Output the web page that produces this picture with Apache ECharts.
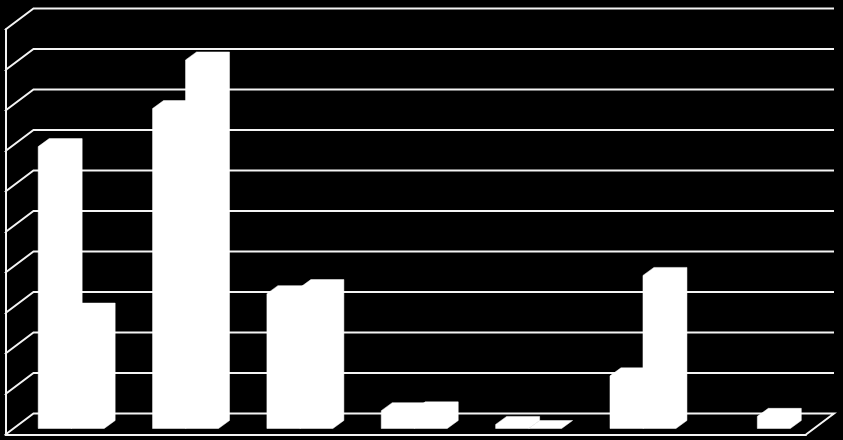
<!DOCTYPE html>
<html>
<head>
<meta charset="utf-8">
<style>html,body{margin:0;padding:0;background:#000}#c{width:843px;height:440px}</style>
<script src="https://cdn.jsdelivr.net/npm/echarts@6/dist/echarts.min.js"></script>
</head>
<body>
<div id="c"></div>
<script>
const categories = ['1','2','3','4','5','6','7'];
const seriesA = [6.96, 7.9, 3.33, 0.44, 0.1, 1.3, null];
const seriesB = [2.9, 9.1, 3.48, 0.46, 0, 3.78, 0.3];
const ticks = [0,1,2,3,4,5,6,7,8,9,10];

const WALL_DX = 28, WALL_DY = -21;   // depth of the chart box
const BAR_OFF_X = 8.5, BAR_OFF_Y = -6; // bar front plane inside box
const BAR_DX = 11, BAR_DY = -8;      // depth of a bar

function wallItem(params, api) {
  const v = api.value(1);
  const cs = params.coordSys;
  const p = api.coord([0, v]);
  const left = cs.x, right = cs.x + cs.width, y = p[1];
  const style = {stroke: '#f4f4f4', lineWidth: 2, fill: null};
  const pts = [[left, y], [left + WALL_DX, y + WALL_DY], [right + WALL_DX, y + WALL_DY]];
  if (v === 0) pts.push([right, y]);
  return {type: 'polyline', shape: {points: pts}, style};
}
function barItem(side) {
  return function (params, api) {
    const val = api.value(1);
    if (val === null || val === undefined || isNaN(val)) return null;
    const c = api.coord([api.value(0), val]);
    const z = api.coord([api.value(0), 0]);
    const w = api.size([1, 0])[0] * 0.2885;
    const x0 = c[0] + (side === 0 ? -w : 0) + BAR_OFF_X;
    const x1 = x0 + w;
    const b = z[1] + BAR_OFF_Y, t = c[1] + BAR_OFF_Y;
    return {type: 'polygon', shape: {points: [
      [x0, b], [x1, b], [x1 + BAR_DX, b + BAR_DY], [x1 + BAR_DX, t + BAR_DY],
      [x0 + BAR_DX, t + BAR_DY], [x0, t]
    ]}, style: {fill: '#fff', stroke: '#fff', lineWidth: 0.5}};
  };
}
const chart = echarts.init(document.getElementById('c'), null, {renderer: 'canvas'});
chart.setOption({
  backgroundColor: '#000',
  animation: false,
  grid: {left: 5.5, top: 29.5, width: 800.5, height: 405, containLabel: false},
  xAxis: {type: 'category', data: categories,
    axisLine: {show: true, lineStyle: {color: '#f4f4f4', width: 2}},
    axisTick: {show: false}, axisLabel: {show: false}, splitLine: {show: false}},
  yAxis: {type: 'value', min: 0, max: 10, interval: 1,
    axisLine: {show: true, onZero: false, lineStyle: {color: '#f4f4f4', width: 2}},
    axisTick: {show: true, length: 1, lineStyle: {color: '#f4f4f4', width: 1}},
    axisLabel: {show: false}, splitLine: {show: false}},
  series: [
    {type: 'custom', name: 'wall', clip: false, z: 1, silent: true,
     renderItem: wallItem, data: ticks.map(v => [0, v])},
    {type: 'custom', name: 'A', clip: false, z: 3, renderItem: barItem(0),
     data: seriesA.map((v, i) => [i, v])},
    {type: 'custom', name: 'B', clip: false, z: 4, renderItem: barItem(1),
     data: seriesB.map((v, i) => [i, v])}
  ]
});
</script>
</body>
</html>
